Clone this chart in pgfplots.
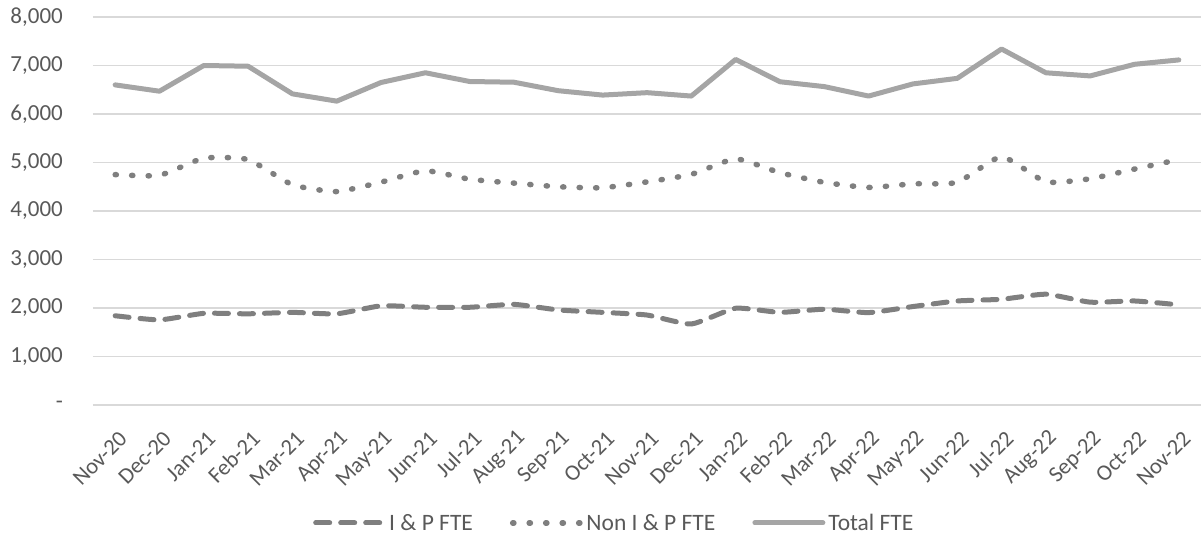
\documentclass[border=0pt]{standalone}
\usepackage{pgfplots}
\pgfplotsset{compat=1.18}
\usepackage{pgfplotstable}
\usepackage{fontspec}
\setmainfont{Carlito}
\definecolor{txtgray}{HTML}{595959}
\definecolor{gridgray}{HTML}{D9D9D9}
\definecolor{darkgray7f}{HTML}{7F7F7F}
\definecolor{lightgraya5}{HTML}{A5A5A5}
\pgfplotstableread{
i ip non tot
0 1840 4750 6600
1 1755 4735 6470
2 1890 5090 7000
3 1880 5060 6985
4 1910 4540 6415
5 1880 4400 6265
6 2045 4595 6650
7 2015 4830 6850
8 2015 4655 6670
9 2075 4575 6655
10 1960 4500 6480
11 1910 4480 6390
12 1855 4600 6440
13 1670 4755 6370
14 1995 5075 7125
15 1910 4790 6665
16 1975 4590 6565
17 1905 4485 6370
18 2030 4560 6620
19 2145 4590 6735
20 2180 5120 7340
21 2285 4600 6850
22 2120 4665 6785
23 2145 4865 7025
24 2065 5060 7115
}\data
\begin{document}
\begin{tikzpicture}
\begin{axis}[
  at={(0,0)}, anchor=south west,
  scale only axis, width=1108bp, height=388bp,
  xmin=-0.5, xmax=24.5, ymin=0, ymax=8000,
  axis line style={draw=none},
  major tick length=0pt,
  xmajorgrids=false, ymajorgrids=true,
  major grid style={draw=gridgray, line width=1.5bp},
  ytick={0,1000,...,8000},
  yticklabels={-\hspace{0.3em},{1,000},{2,000},{3,000},{4,000},{5,000},{6,000},{7,000},{8,000}},
  yticklabel style={font=\fontsize{23bp}{27bp}\selectfont, text=txtgray, anchor=east, inner sep=0pt, xshift=-30bp},
  xtick={0,...,24},
  xticklabels={Nov-20,Dec-20,Jan-21,Feb-21,Mar-21,Apr-21,May-21,Jun-21,Jul-21,Aug-21,Sep-21,Oct-21,Nov-21,Dec-21,Jan-22,Feb-22,Mar-22,Apr-22,May-22,Jun-22,Jul-22,Aug-22,Sep-22,Oct-22,Nov-22},
  xticklabel style={font=\fontsize{22.5bp}{26bp}\selectfont, text=txtgray, xshift=8bp, yshift=-30bp, rotate=45, anchor=east, inner sep=0pt},
  legend style={draw=none, fill=none, at={(0.4705,-0.304)}, anchor=center,
    font=\fontsize{23.5bp}{27bp}\selectfont, text=txtgray, legend columns=-1,
    /tikz/every odd column/.append style={column sep=1bp},
    /tikz/every even column/.append style={column sep=35bp}},
  legend image code/.code={\draw[#1] (0bp,0bp) -- (68bp,0bp);},
]
\addplot[darkgray7f, line width=5bp, line cap=round, line join=round, dash pattern=on 14bp off 11bp, smooth, tension=0.3] table[x=i,y=ip]{\data};
\addlegendentry{I \& P FTE}
\addplot[darkgray7f, line width=5.5bp, line cap=round, line join=round, dash pattern=on 1.2bp off 15.3bp, smooth, tension=0.3] table[x=i,y=non]{\data};
\addlegendentry{Non I \& P FTE}
\addplot[lightgraya5, line width=5bp, line cap=round, line join=round] table[x=i,y=tot]{\data};
\addlegendentry{Total FTE}
\end{axis}
\pgfresetboundingbox
\path (-93bp,-139bp) rectangle (1108bp,405bp);
\end{tikzpicture}
\end{document}
